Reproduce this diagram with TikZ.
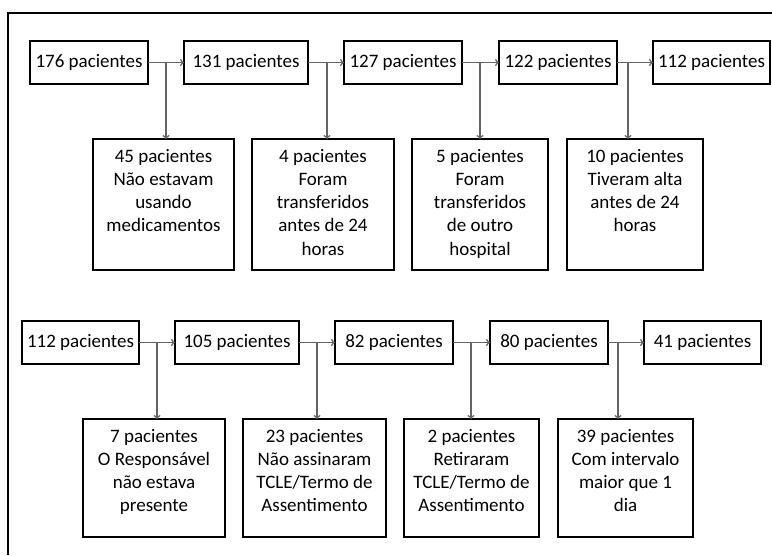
\documentclass[tikz,border=0pt]{standalone}
\usepackage{fontspec}
\setmainfont{Carlito}
\usepackage{tikz}
\usetikzlibrary{arrows, positioning}
\definecolor{linegray}{RGB}{100,100,100}
\newcommand{\diagfont}{\fontsize{19}{23.2}\selectfont}
\newcommand{\caixa}[3]{\parbox[c][#2][t]{#1}{\centering\vspace*{7pt}\strut #3}}

\begin{document}
\begin{tikzpicture}[
    x=1pt, y=-1pt,
    tbox/.style={rectangle, draw, line width=2pt, outer sep=0pt, minimum width=118pt, minimum height=43pt, inner sep=1pt, font=\diagfont},
    lbox/.style={rectangle, draw, line width=2pt, outer sep=0pt, inner sep=0pt, anchor=north west, font=\diagfont},
    arrow/.style={->, linegray, line width=1.5pt}
]
\useasboundingbox (0,0) rectangle (772,555);

% Moldura
\draw[line width=2.4pt] (8,555) -- (8,13) -- (772,13);

% Linha 1
\node[tbox] (a1) at (89,62.5) {176 pacientes};
\node[tbox, minimum width=124pt, right=36pt of a1] (a2) {131 pacientes};
\node[tbox, right=36pt of a2] (a3) {127 pacientes};
\node[tbox, right=37pt of a3] (a4) {122 pacientes};
\node[tbox, minimum width=117pt, right=36pt of a4] (a5) {112 pacientes};

% Exclusoes linha 1
\node[lbox] (b1) at (93,139) {\caixa{141pt}{131pt}{45 pacientes\\Não estavam\\usando\\medicamentos}};
\node[lbox, right=18pt of b1] (b2) {\caixa{142pt}{131pt}{4 pacientes\\Foram\\transferidos\\antes de 24\\horas}};
\node[lbox, right=18pt of b2] (b3) {\caixa{136pt}{131pt}{5 pacientes\\Foram\\transferidos\\de outro\\hospital}};
\node[lbox, right=19pt of b3] (b4) {\caixa{136pt}{131pt}{10 pacientes\\Tiveram alta\\antes de 24\\horas}};

\coordinate[right=18pt of a1.east] (d1);
\coordinate[right=19pt of a2.east] (d2);
\coordinate[right=18pt of a3.east] (d3);
\coordinate[right=11pt of a4.east] (d4);

% Linha 2
\node[tbox, minimum width=117pt] (c1) at (80.5,342.5) {112 pacientes};
\node[tbox, minimum width=124pt, right=36pt of c1] (c2) {105 pacientes};
\node[tbox, right=36pt of c2] (c3) {82 pacientes};
\node[tbox, right=37pt of c3] (c4) {80 pacientes};
\node[tbox, minimum width=117pt, right=36pt of c4] (c5) {41 pacientes};

% Exclusoes linha 2
\node[lbox] (e1) at (83,419) {\caixa{142pt}{118pt}{7 pacientes\\O Responsável\\não estava\\presente}};
\node[lbox, right=18pt of e1] (e2) {\caixa{143pt}{118pt}{23 pacientes\\Não assinaram\\TCLE/Termo de\\Assentimento}};
\node[lbox, right=18pt of e2] (e3) {\caixa{135pt}{118pt}{2 pacientes\\Retiraram\\TCLE/Termo de\\Assentimento}};
\node[lbox, right=19pt of e3] (e4) {\caixa{135pt}{118pt}{39 pacientes\\Com intervalo\\maior que 1\\dia}};

\coordinate[right=18pt of c1.east] (f1);
\coordinate[right=18pt of c2.east] (f2);
\coordinate[right=18pt of c3.east] (f3);
\coordinate[right=10pt of c4.east] (f4);

% Setas
\draw[arrow] (a1) -- (a2);
\draw[arrow] (a2) -- (a3);
\draw[arrow] (a3) -- (a4);
\draw[arrow] (a4) -- (a5);
\draw[arrow] (d1) -- (d1 |- b1.north);
\draw[arrow] (d2) -- (d2 |- b2.north);
\draw[arrow] (d3) -- (d3 |- b3.north);
\draw[arrow] (d4) -- (d4 |- b4.north);

\draw[arrow] (c1) -- (c2);
\draw[arrow] (c2) -- (c3);
\draw[arrow] (c3) -- (c4);
\draw[arrow] (c4) -- (c5);
\draw[arrow] (f1) -- (f1 |- e1.north);
\draw[arrow] (f2) -- (f2 |- e2.north);
\draw[arrow] (f3) -- (f3 |- e3.north);
\draw[arrow] (f4) -- (f4 |- e4.north);

\end{tikzpicture}
\end{document}
